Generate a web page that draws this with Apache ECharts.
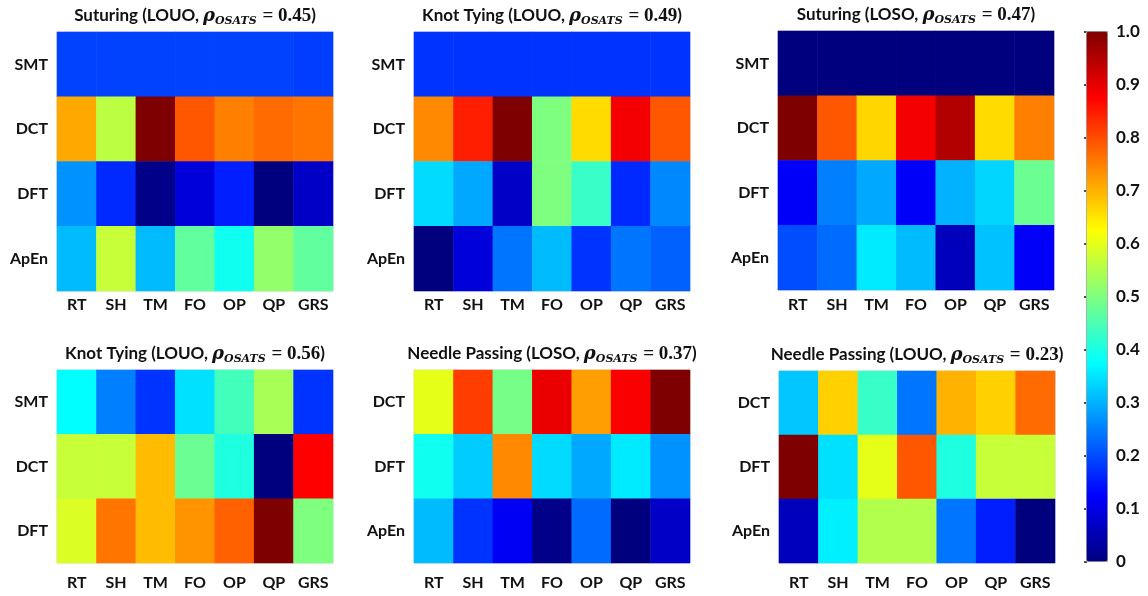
<!DOCTYPE html>
<html><head><meta charset="utf-8">
<script src="https://cdn.jsdelivr.net/npm/echarts@6/dist/echarts.min.js"></script>
<style>html,body{margin:0;padding:0;background:#fff}#c{width:1148px;height:596px}</style>
</head><body><div id="c"></div>
<script>
const xCats = ['RT','SH','TM','FO','OP','QP','GRS'];
const rows4 = ['SMT','DCT','DFT','ApEn'];
const rowsKT2 = ['SMT','DCT','DFT'];
const rowsNP = ['DCT','DFT','ApEn'];
const colorbarTicks = [0,0.1,0.2,0.3,0.4,0.5,0.6,0.7,0.8,0.9,1.0];

// Panel values: one array per row, columns RT..GRS
const sutLOUO = [
  [0.19,0.19,0.19,0.19,0.19,0.19,0.185],
  [0.71,0.56,1.00,0.79,0.75,0.77,0.76],
  [0.27,0.165,0.01,0.09,0.155,0.0,0.07],
  [0.31,0.57,0.31,0.47,0.39,0.52,0.47]
];
const ktLOUO = [
  [0.175,0.175,0.175,0.175,0.175,0.175,0.175],
  [0.74,0.845,1.00,0.50,0.66,0.885,0.79],
  [0.34,0.29,0.07,0.50,0.43,0.165,0.26],
  [0.0,0.09,0.24,0.31,0.175,0.24,0.22]
];
const sutLOSO = [
  [0.0,0.0,0.0,0.0,0.0,0.0,0.0],
  [1.00,0.79,0.665,0.885,0.95,0.66,0.75],
  [0.12,0.25,0.29,0.12,0.30,0.335,0.48],
  [0.20,0.23,0.355,0.31,0.06,0.315,0.12]
];
const ktLOUO2 = [
  [0.375,0.25,0.175,0.345,0.44,0.54,0.175],
  [0.57,0.57,0.69,0.48,0.405,0.0,0.875],
  [0.59,0.76,0.69,0.73,0.78,1.00,0.50]
];
const npLOSO = [
  [0.60,0.815,0.49,0.895,0.72,0.88,1.00],
  [0.39,0.325,0.74,0.34,0.29,0.355,0.27],
  [0.31,0.175,0.115,0.01,0.23,0.0,0.07]
];
const npLOUO = [
  [0.32,0.67,0.43,0.24,0.70,0.67,0.77],
  [1.00,0.345,0.60,0.79,0.405,0.57,0.57],
  [0.06,0.36,0.55,0.55,0.24,0.155,0.0]
];

const titleTask = ['Suturing','Knot Tying','Suturing','Knot Tying','Needle Passing','Needle Passing'];
const titleSplit = ['LOUO','LOUO','LOSO','LOUO','LOSO','LOUO'];
const titleRho = ['0.45','0.49','0.47','0.56','0.37','0.23'];

const panels = [
  {vals:sutLOUO, rows:rows4, left:57, top:32, w:276, h:259, xm:6},
  {vals:ktLOUO, rows:rows4, left:414, top:32, w:276, h:259, xm:6},
  {vals:sutLOSO, rows:rows4, left:778, top:31, w:276, h:259, xm:7},
  {vals:ktLOUO2, rows:rowsKT2, left:57, top:370, w:276, h:193, xm:12},
  {vals:npLOSO, rows:rowsNP, left:414, top:370, w:276, h:193, xm:12},
  {vals:npLOUO, rows:rowsNP, left:779, top:371, w:276, h:192, xm:12}
];

const font = 'Lato, "Open Sans", sans-serif';
const grids=[], xAxes=[], yAxes=[], series=[], titles=[];
panels.forEach((p,i)=>{
  grids.push({left:p.left, top:p.top, width:p.w, height:p.h, show:true, borderColor:'#d4d4d4', borderWidth:1, backgroundColor:'transparent'});
  xAxes.push({type:'category', gridIndex:i, data:xCats, axisLine:{show:false}, axisTick:{show:false},
    axisLabel:{interval:0, color:'#111', fontWeight:'bold', fontSize:16, fontFamily:font, margin:p.xm}, splitArea:{show:false}});
  yAxes.push({type:'category', gridIndex:i, data:p.rows, inverse:true, axisLine:{show:false}, axisTick:{show:false},
    axisLabel:{interval:0, color:'#111', fontWeight:'bold', fontSize:16, fontFamily:font, margin:9}});
  const d=[];
  p.vals.forEach((row,r)=>row.forEach((v,c)=>d.push([c,r,v])));
  series.push({type:'heatmap', xAxisIndex:i, yAxisIndex:i, data:d, itemStyle:{borderWidth:0}, emphasis:{disabled:true}});
  titles.push({
    text:'{b|'+titleTask[i]+' ('+titleSplit[i]+', }{m|ρ}{s|OSATS}{e| = '+titleRho[i]+'}{b|)}',
    left:p.left+p.w/2, top:p.top-28, textAlign:'center', padding:0,
    textStyle:{rich:{
      b:{fontFamily:font, fontWeight:'bold', fontSize:17, color:'#111', lineHeight:24},
      m:{fontFamily:'"DejaVu Serif", serif', fontStyle:'italic', fontWeight:'bold', fontSize:18, color:'#111', lineHeight:24},
      s:{fontFamily:'"DejaVu Serif", serif', fontStyle:'italic', fontWeight:'bold', fontSize:11, color:'#111', lineHeight:24, padding:[10,1,0,0]},
      e:{fontFamily:'"Liberation Serif", serif', fontWeight:'bold', fontSize:19, color:'#111', lineHeight:24}
    }}
  });
});
// colorbar axis grid
grids.push({left:1087, top:32, width:21, height:530, show:false});
xAxes.push({type:'value', gridIndex:6, show:false, min:0, max:1});
yAxes.push({type:'value', gridIndex:6, position:'right', min:colorbarTicks[0], max:colorbarTicks[colorbarTicks.length-1], interval:0.1,
  axisLine:{show:false}, splitLine:{show:false},
  axisTick:{show:true, inside:true, length:3, lineStyle:{color:'#111', width:1.5}},
  axisLabel:{color:'#111', fontWeight:'bold', fontSize:17, fontFamily:font, margin:8,
    formatter:v=>v===0?'0':v.toFixed(1)}});
series.push({type:'line', xAxisIndex:6, yAxisIndex:6, data:[], silent:true});

const chart = echarts.init(document.getElementById('c'), null, {renderer:'canvas'});
chart.setOption({
  animation:false,
  backgroundColor:'#fff',
  title:titles,
  grid:grids, xAxis:xAxes, yAxis:yAxes, series:series,
  visualMap:{type:'continuous', min:0, max:1, seriesIndex:[0,1,2,3,4,5], calculable:false, show:true,
    left:1086, top:31, itemWidth:21, itemHeight:530, padding:0, borderColor:'#999', borderWidth:1,
    text:null, showLabel:false, textStyle:{color:'transparent'},
    inRange:{color:['#00007F','#0000FF','#007FFF','#00FFFF','#7FFF7F','#FFFF00','#FF7F00','#FF0000','#7F0000']}}
});
</script></body></html>
